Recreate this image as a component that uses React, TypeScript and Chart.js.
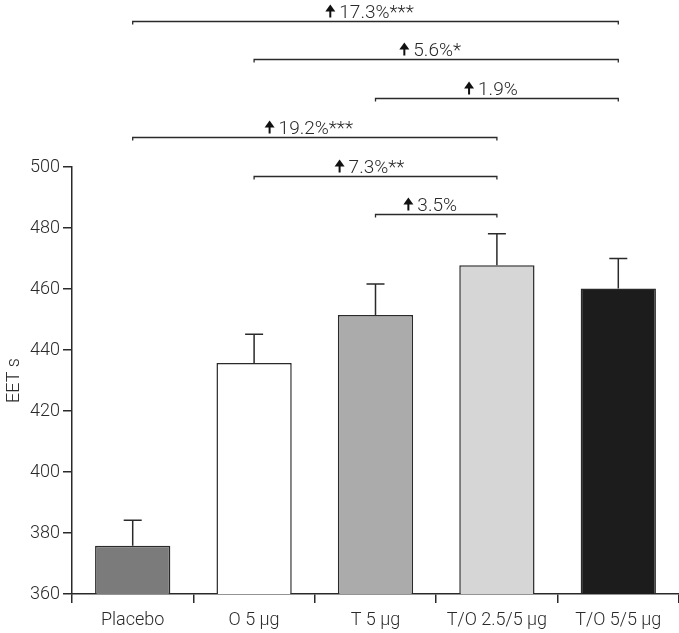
import React, { useEffect, useRef } from "react";
import { Chart, registerables } from "chart.js";

Chart.register(...registerables);

const categories = ["Placebo", "O 5 µg", "T 5 µg", "T/O 2.5/5 µg", "T/O 5/5 µg"];
const means = [375.8, 435.7, 451.5, 467.8, 460.2];
const errorTops = [384.2, 445.2, 461.6, 478.1, 470.0];
const barColors = ["#7b7b7b", "#ffffff", "#ababab", "#d6d6d6", "#1c1c1c"];
const yTicks = [360, 380, 400, 420, 440, 460, 480, 500];

const bracketFrom = [0, 1, 2, 0, 1, 2];
const bracketTo = [4, 4, 4, 3, 3, 3];
const bracketLabels = ["17.3%***", "5.6%*", "1.9%", "19.2%***", "7.3%**", "3.5%"];
const bracketLevels = [548.0, 535.3, 522.7, 510.0, 497.2, 484.7];

const FONT = "Roboto, 'DejaVu Sans', sans-serif";
const INK = "#2a2a2a";

const errorBarPlugin = {
  id: "errorBars",
  afterDatasetsDraw(chart: any) {
    const ctx = chart.ctx;
    const x = chart.scales.x;
    const y = chart.scales.y;
    ctx.save();
    ctx.strokeStyle = INK;
    ctx.lineWidth = 1.5;
    means.forEach((m, i) => {
      const cx = x.getPixelForValue(i);
      const y0 = y.getPixelForValue(m);
      const y1 = y.getPixelForValue(errorTops[i]);
      ctx.beginPath();
      ctx.moveTo(cx, y0);
      ctx.lineTo(cx, y1);
      ctx.moveTo(cx - 9, y1);
      ctx.lineTo(cx + 9, y1);
      ctx.stroke();
    });
    ctx.restore();
  },
};

const bracketPlugin = {
  id: "brackets",
  afterDraw(chart: any) {
    const ctx = chart.ctx;
    const x = chart.scales.x;
    const y = chart.scales.y;
    ctx.save();
    ctx.strokeStyle = INK;
    ctx.lineWidth = 1.3;
    ctx.font = `300 19px ${FONT}`;
    ctx.textBaseline = "alphabetic";
    bracketLabels.forEach((lab, i) => {
      const xa = x.getPixelForValue(bracketFrom[i]);
      const xb = x.getPixelForValue(bracketTo[i]);
      const yy = Math.round(y.getPixelForValue(bracketLevels[i])) + 0.5;
      ctx.beginPath();
      ctx.moveTo(xa, yy + 3);
      ctx.lineTo(xa, yy);
      ctx.lineTo(xb, yy);
      ctx.lineTo(xb, yy + 3);
      ctx.stroke();
      const tw = ctx.measureText(lab).width;
      const arrowW = 10;
      const gap = 4;
      const total = arrowW + gap + tw;
      const mid = (xa + xb) / 2 - 6;
      const left = mid - total / 2;
      const base = yy - 4;
      const ax = left + arrowW / 2;
      ctx.fillStyle = "#111";
      ctx.beginPath();
      ctx.moveTo(ax, base - 13);
      ctx.lineTo(ax - 5, base - 6);
      ctx.lineTo(ax + 5, base - 6);
      ctx.closePath();
      ctx.fill();
      ctx.fillRect(ax - 1, base - 7, 2, 7);
      ctx.fillStyle = INK;
      ctx.fillText(lab, left + arrowW + gap, base);
    });
    ctx.restore();
  },
};

export default function App() {
  const ref = useRef<HTMLCanvasElement>(null);
  useEffect(() => {
    document.body.style.margin = "0";
    const chart = new Chart(ref.current!, {
      type: "bar",
      data: {
        labels: categories,
        datasets: [
          {
            data: means,
            backgroundColor: barColors,
            borderColor: INK,
            borderWidth: 1.5,
            barPercentage: 0.62,
            categoryPercentage: 1,
          },
        ],
      },
      options: {
        animation: false,
        responsive: false,
        devicePixelRatio: 1,
        layout: { padding: { top: 167, right: 0, bottom: 0, left: 0 } },
        plugins: { legend: { display: false }, tooltip: { enabled: false } },
        scales: {
          x: {
            afterFit: (s: any) => {
              s.height = 39;
            },
            grid: { display: true, drawOnChartArea: false, drawTicks: true, tickLength: 9, color: INK, lineWidth: 1.5 },
            border: { display: true, color: INK, width: 1.5 },
            ticks: { color: INK, font: { size: 18, family: FONT, weight: "300" }, padding: 7 },
          },
          y: {
            min: 360,
            max: 500,
            afterBuildTicks: (s: any) => {
              s.ticks = yTicks.map((v) => ({ value: v }));
            },
            afterFit: (s: any) => {
              s.width = 72;
            },
            grid: { display: true, drawOnChartArea: false, drawTicks: true, tickLength: 9, color: INK, lineWidth: 1.5 },
            border: { display: true, color: INK, width: 1.5 },
            ticks: { color: INK, font: { size: 18, family: FONT, weight: "300" }, padding: 3 },
            title: { display: true, text: "EET s", color: INK, font: { size: 18, family: FONT, weight: "300" }, padding: { top: 4, bottom: 0 } },
          },
        },
      },
      plugins: [errorBarPlugin, bracketPlugin],
    });
    return () => chart.destroy();
  }, []);
  return <canvas ref={ref} width={679} height={633} style={{ display: "block" }} />;
}
